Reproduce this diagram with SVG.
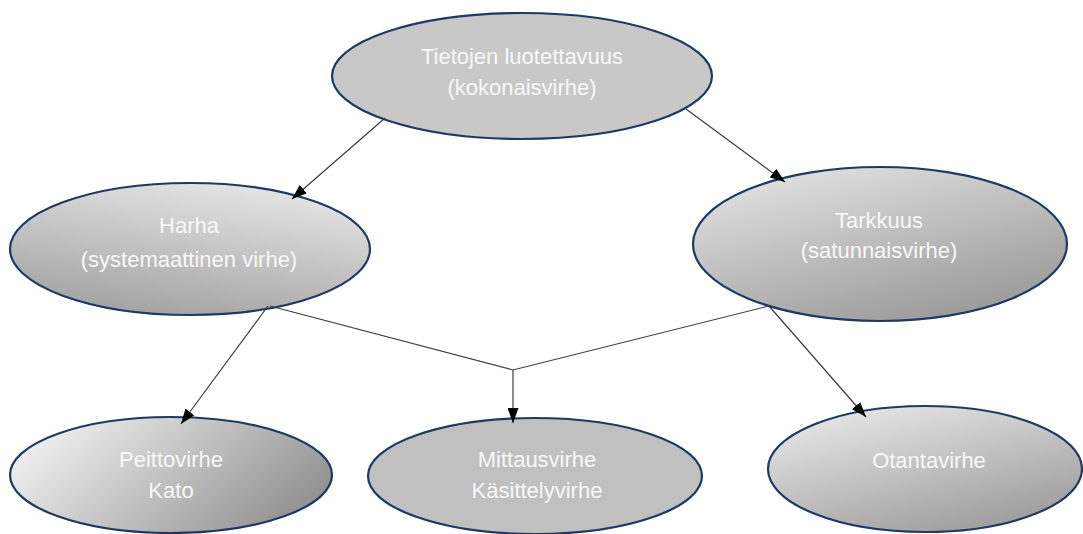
<svg xmlns="http://www.w3.org/2000/svg" width="1083" height="534" viewBox="0 0 1083 534">
<defs>
<style>
.node{stroke:#1f3864;stroke-width:2.2}
.lbl{font-family:"Liberation Sans",Arial,sans-serif;font-size:22px;fill:#f8f8f8;text-anchor:middle}
.con{stroke:#3c3c3c;stroke-width:1.2;fill:none}
</style>
<marker id="arr" viewBox="0 0 15 11" refX="15" refY="5.5" markerWidth="15" markerHeight="11" markerUnits="userSpaceOnUse" orient="auto">
<path d="M0,0 L15,5.5 L0,11 Z" fill="#000"/>
</marker>
<linearGradient id="gHarha" x1="0.7" y1="0" x2="0.3" y2="1">
<stop offset="0" stop-color="#e6e6e6"/><stop offset="1" stop-color="#a2a2a2"/>
</linearGradient>
<linearGradient id="gTark" x1="0.2" y1="0" x2="0.8" y2="1">
<stop offset="0" stop-color="#e2e2e2"/><stop offset="1" stop-color="#969696"/>
</linearGradient>
<linearGradient id="gPeitto" x1="0" y1="0.3" x2="1" y2="0.7">
<stop offset="0" stop-color="#f2f2f2"/><stop offset="1" stop-color="#8e8e8e"/>
</linearGradient>
<linearGradient id="gOtanta" x1="0.2" y1="0" x2="0.8" y2="1">
<stop offset="0" stop-color="#e8e8e8"/><stop offset="1" stop-color="#999999"/>
</linearGradient>
</defs>
<rect width="1083" height="534" fill="#ffffff"/>

<g id="n-top">
<ellipse class="node" cx="522" cy="76" rx="190" ry="63" fill="#c8c8c8"/>
<text class="lbl" x="522" y="64">Tietojen luotettavuus</text>
<text class="lbl" x="522" y="95">(kokonaisvirhe)</text>
</g>

<g id="n-harha">
<ellipse class="node" cx="190" cy="249" rx="180" ry="66" fill="url(#gHarha)"/>
<text class="lbl" x="189" y="233">Harha</text>
<text class="lbl" x="189" y="267">(systemaattinen virhe)</text>
</g>

<g id="n-tarkkuus">
<ellipse class="node" cx="880" cy="244" rx="187" ry="77" fill="url(#gTark)"/>
<text class="lbl" x="879" y="228">Tarkkuus</text>
<text class="lbl" x="879" y="258">(satunnaisvirhe)</text>
</g>

<g id="n-peitto">
<ellipse class="node" cx="171" cy="475" rx="161" ry="58" fill="url(#gPeitto)"/>
<text class="lbl" x="171" y="467">Peittovirhe</text>
<text class="lbl" x="171" y="498">Kato</text>
</g>

<g id="n-mittaus">
<ellipse class="node" cx="535" cy="476" rx="167" ry="58" fill="#c0c0c0"/>
<text class="lbl" x="537" y="467">Mittausvirhe</text>
<text class="lbl" x="537" y="498">Käsittelyvirhe</text>
</g>

<g id="n-otanta">
<ellipse class="node" cx="925" cy="469" rx="157" ry="63" fill="url(#gOtanta)"/>
<text class="lbl" x="929" y="468">Otantavirhe</text>
</g>

<g id="connectors">
<line class="con" x1="385" y1="118" x2="292" y2="199" marker-end="url(#arr)"/>
<line class="con" x1="686" y1="109" x2="785" y2="182" marker-end="url(#arr)"/>
<line class="con" x1="268" y1="306" x2="181" y2="424" marker-end="url(#arr)"/>
<line class="con" x1="769" y1="306" x2="866" y2="417" marker-end="url(#arr)"/>
<polyline class="con" points="270,306 513,370 769,306"/>
<line class="con" x1="513" y1="370" x2="513" y2="423" marker-end="url(#arr)"/>
</g>
</svg>
